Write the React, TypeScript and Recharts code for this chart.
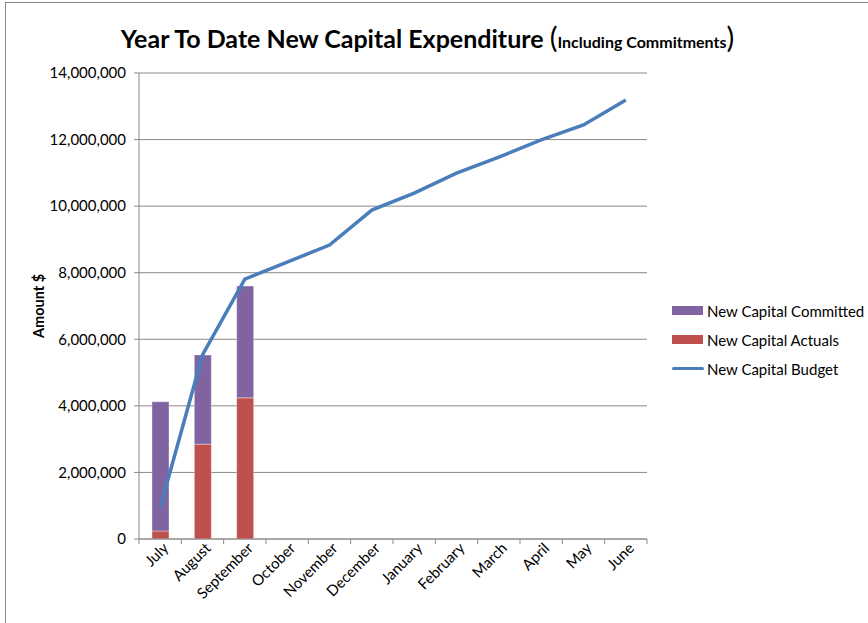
import React from 'react';
import { ComposedChart, Bar, Line, XAxis, YAxis, CartesianGrid } from 'recharts';

const months = ['July', 'August', 'September', 'October', 'November', 'December', 'January', 'February', 'March', 'April', 'May', 'June'];
const actuals = [240000, 2850000, 4240000, null, null, null, null, null, null, null, null, null];
const committed = [3880000, 2680000, 3360000, null, null, null, null, null, null, null, null, null];
const budget = [940000, 5530000, 7810000, 8320000, 8830000, 9880000, 10390000, 10990000, 11470000, 11990000, 12440000, 13190000];
const yTicks = [0, 2000000, 4000000, 6000000, 8000000, 10000000, 12000000, 14000000];

const legendItems = [
  { name: 'New Capital Committed', color: '#8064A2', kind: 'bar' },
  { name: 'New Capital Actuals', color: '#C0504D', kind: 'bar' },
  { name: 'New Capital Budget', color: '#4A7EBB', kind: 'line' },
];

const data = months.map((m, i) => ({
  month: m,
  actuals: actuals[i],
  committed: committed[i],
  budget: budget[i],
}));

const FONT = 'Lato, "Open Sans", sans-serif';
const AXIS = '#8a8a8a';

// label rotated -45, plus Excel-style tick marks on the category boundaries
const MonthTick = (props: any) => {
  const { x, y, payload, index } = props;
  const half = payload.offset || 0;
  return (
    <g>
      <line x1={x - half} x2={x - half} y1={y - 8} y2={y - 3} stroke={AXIS} />
      {index === months.length - 1 && <line x1={x + half} x2={x + half} y1={y - 8} y2={y - 3} stroke={AXIS} />}
      <g transform={`translate(${x},${y})`}>
        <text x={5} y={8} textAnchor="end" transform="rotate(-45)" fontSize={15} fontFamily={FONT} fill="#000">
          {payload.value}
        </text>
      </g>
    </g>
  );
};

export default function App() {
  return (
    <div style={{ position: 'absolute', left: 0, top: 0, width: 868, height: 623, overflow: 'hidden', background: '#fff' }}>
      <div style={{ position: 'absolute', left: 5, top: 2, width: 900, height: 700, border: '1px solid #8a8a8a' }} />
      <div
        style={{
          position: 'absolute', left: 0, top: 19, width: 855, textAlign: 'center',
          fontFamily: FONT, fontWeight: 700, fontSize: 25, color: '#000', whiteSpace: 'nowrap',
        }}
      >
        Year To Date New Capital Expenditure <span style={{ fontSize: 29, fontWeight: 400 }}>(</span>
        <span style={{ fontSize: 16 }}>Including Commitments</span>
        <span style={{ fontSize: 29, fontWeight: 400 }}>)</span>
      </div>
      <div
        style={{
          position: 'absolute', left: 38, top: 306, transform: 'translate(-50%, -50%) rotate(-90deg)',
          fontFamily: FONT, fontWeight: 700, fontSize: 14.5, whiteSpace: 'nowrap', color: '#000',
        }}
      >
        Amount $
      </div>
      <div style={{ position: 'absolute', left: 672, top: 296, fontFamily: FONT, fontSize: 15, color: '#000' }}>
        {legendItems.map((it) => (
          <div key={it.name} style={{ display: 'flex', alignItems: 'center', height: 29 }}>
            {it.kind === 'bar' ? (
              <span style={{ display: 'inline-block', width: 31, height: 9, background: it.color, marginRight: 4 }} />
            ) : (
              <span style={{ display: 'inline-block', width: 32, height: 3, borderRadius: 2, background: it.color, marginRight: 3 }} />
            )}
            <span style={{ whiteSpace: 'nowrap' }}>{it.name}</span>
          </div>
        ))}
      </div>
      <div style={{ position: 'absolute', left: 0, top: 0 }}>
        <ComposedChart width={868} height={623} data={data} margin={{ top: 73, right: 221, bottom: 0, left: 49 }} barGap={0}>
          <CartesianGrid vertical={false} stroke={AXIS} strokeWidth={1} />
          <XAxis
            dataKey="month"
            height={84}
            tick={<MonthTick />}
            tickLine={false}
            axisLine={{ stroke: AXIS }}
            interval={0}
          />
          <YAxis
            width={90}
            domain={[0, 14000000]}
            ticks={yTicks}
            tickFormatter={(v: number) => v.toLocaleString('en-US')}
            tick={{ fontSize: 15, fontFamily: FONT, fill: '#000' }}
            axisLine={{ stroke: AXIS }}
            tickLine={{ stroke: AXIS }}
            tickSize={5}
            tickMargin={8}
          />
          <Bar dataKey="actuals" stackId="a" fill="#C0504D" stroke="#fff" strokeOpacity={0.35} barSize={17} name="New Capital Actuals" isAnimationActive={false} />
          <Bar dataKey="committed" stackId="a" fill="#8064A2" stroke="#fff" strokeOpacity={0.35} barSize={17} name="New Capital Committed" isAnimationActive={false} />
          <Line
            dataKey="budget"
            type="linear"
            stroke="#4A7EBB"
            strokeWidth={3.5}
            dot={false}
            name="New Capital Budget"
            isAnimationActive={false}
          />
        </ComposedChart>
      </div>
    </div>
  );
}
